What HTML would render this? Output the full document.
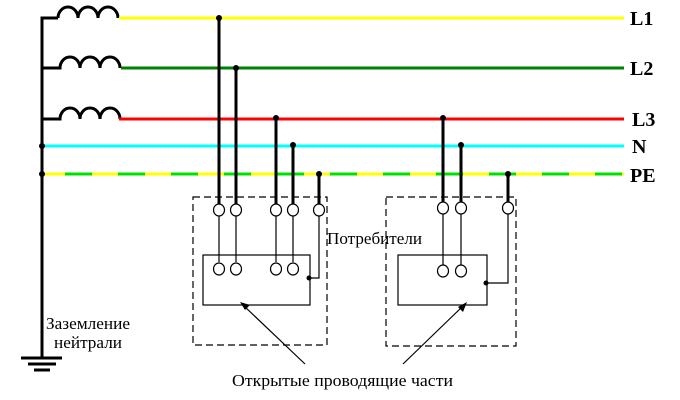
<!DOCTYPE html>
<html><head><meta charset="utf-8"><style>body{margin:0;background:#fff}svg{display:block}</style></head><body>
<svg width="680" height="400" viewBox="0 0 680 400" xmlns="http://www.w3.org/2000/svg" font-family="Liberation Serif, serif">
<g fill="none" stroke="#000" stroke-width="3">
<path d="M42 358V18H58"/>
<path d="M58 18a10 11 0 0 1 20 0a10 11 0 0 1 20 0a10 11 0 0 1 20 0"/>
<path d="M42 68H60a10 11 0 0 1 20 0a10 11 0 0 1 20 0a10 11 0 0 1 20 0"/>
<path d="M42 119H60a10 11 0 0 1 20 0a10 11 0 0 1 20 0a10 11 0 0 1 20 0"/>
</g>
<line x1="119" y1="18" x2="624" y2="18" stroke="#ffff00" stroke-width="3"/>
<line x1="121" y1="68" x2="624" y2="68" stroke="#008000" stroke-width="3"/>
<line x1="119" y1="119" x2="624" y2="119" stroke="#ff0000" stroke-width="3"/>
<line x1="42" y1="146" x2="624" y2="146" stroke="#00ffff" stroke-width="3"/>
<line x1="42" y1="174" x2="624" y2="174" stroke="#ffff00" stroke-width="3"/>
<line x1="65" y1="174" x2="624" y2="174" stroke="#00e000" stroke-width="3" stroke-dasharray="27 26"/>
<g fill="#000"><circle cx="42" cy="146" r="3"/><circle cx="42" cy="174" r="3"/>
<circle cx="219" cy="18" r="3"/><circle cx="236" cy="68" r="3"/><circle cx="276" cy="118" r="3"/><circle cx="293" cy="145" r="3"/><circle cx="319" cy="174" r="3"/>
<circle cx="443" cy="118" r="3"/><circle cx="461" cy="145" r="3"/><circle cx="508" cy="174" r="3"/>
<circle cx="309" cy="278" r="2.5"/><circle cx="486" cy="283" r="2.5"/></g>
<g stroke="#000" stroke-width="3">
<line x1="219" y1="18" x2="219" y2="204"/><line x1="236" y1="68" x2="236" y2="204"/>
<line x1="276" y1="118" x2="276" y2="204"/><line x1="293" y1="145" x2="293" y2="204"/><line x1="319" y1="174" x2="319" y2="204"/>
<line x1="443" y1="118" x2="443" y2="202"/><line x1="461" y1="145" x2="461" y2="202"/><line x1="508" y1="174" x2="508" y2="202"/>
<line x1="21" y1="358" x2="62" y2="358"/><line x1="28" y1="364" x2="56" y2="364"/><line x1="34" y1="370" x2="50" y2="370"/>
</g>
<g fill="none" stroke="#000" stroke-width="1.2">
<rect x="193" y="197" width="134" height="148" stroke-dasharray="7 4"/>
<rect x="386" y="197" width="130" height="149" stroke-dasharray="7 4"/>
<rect x="203" y="255" width="107" height="50"/>
<rect x="398" y="255" width="89" height="50"/>
<path d="M219 216V262M236 216V262M276 216V262M293 216V262M319 216V278H309"/>
<path d="M443 214V265M461 214V265M508 214V283H486"/>
<g fill="#fff">
<ellipse cx="219" cy="210" rx="5.5" ry="6"/><ellipse cx="236" cy="210" rx="5.5" ry="6"/><ellipse cx="276" cy="210" rx="5.5" ry="6"/><ellipse cx="293" cy="210" rx="5.5" ry="6"/><ellipse cx="319" cy="210" rx="5.5" ry="6"/>
<ellipse cx="219" cy="269" rx="5.5" ry="6"/><ellipse cx="236" cy="269" rx="5.5" ry="6"/><ellipse cx="276" cy="269" rx="5.5" ry="6"/><ellipse cx="293" cy="269" rx="5.5" ry="6"/>
<ellipse cx="443" cy="208" rx="5.5" ry="6"/><ellipse cx="461" cy="208" rx="5.5" ry="6"/><ellipse cx="508" cy="208" rx="5.5" ry="6"/>
<ellipse cx="443" cy="271" rx="5.5" ry="6"/><ellipse cx="461" cy="271" rx="5.5" ry="6"/>
</g>
<line x1="305" y1="364" x2="244" y2="306"/><line x1="403" y1="364" x2="463" y2="306"/>
</g>
<path d="M240 302l10 3-5 5z" fill="#000"/><path d="M467 302l-4 10-5-5z" fill="#000"/>
<g font-size="20" font-weight="bold" fill="#000">
<text x="630" y="25">L1</text><text x="630" y="75">L2</text><text x="632" y="126">L3</text><text x="632" y="153">N</text><text x="630" y="182">PE</text>
</g>
<g font-size="17" fill="#000">
<text x="327" y="244" textLength="95" lengthAdjust="spacingAndGlyphs">Потребители</text>
<text x="46" y="329" textLength="84" lengthAdjust="spacingAndGlyphs">Заземление</text><text x="54" y="348" textLength="68" lengthAdjust="spacingAndGlyphs">нейтрали</text>
<text x="232" y="386" textLength="221" lengthAdjust="spacingAndGlyphs">Открытые проводящие части</text>
</g>
</svg>
</body></html>
